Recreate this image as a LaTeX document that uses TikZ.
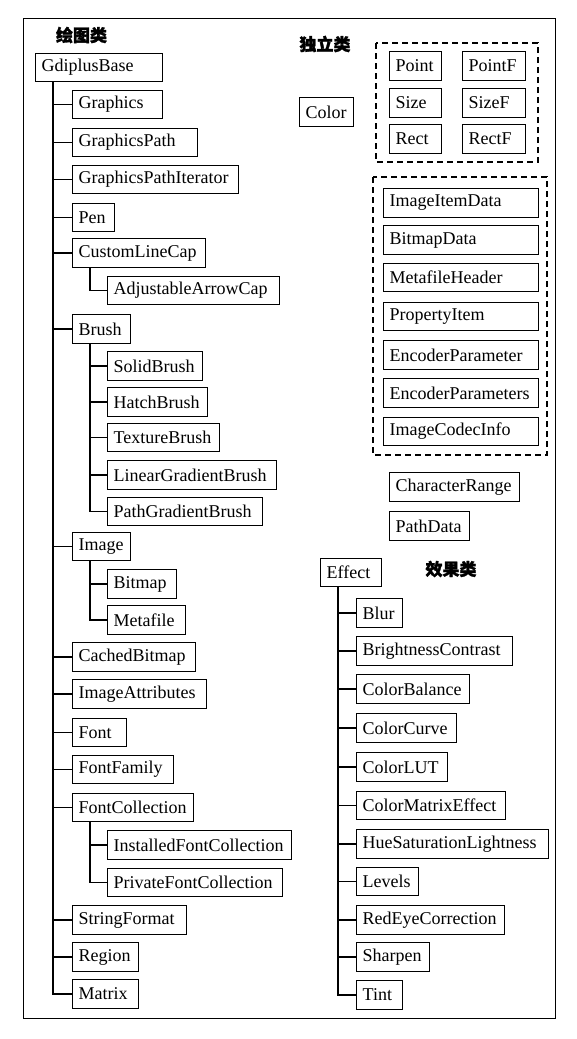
\documentclass[tikz,border=0pt]{standalone}
\usepackage{fontspec}
\setmainfont{Liberation Serif}
\newfontfamily\cjk[FakeBold=1.6]{Noto Sans CJK SC}
\usetikzlibrary{calc}
\tikzset{
  box/.style={draw, line width=1.3pt, minimum height=28.5pt, inner xsep=6pt, inner ysep=0pt, anchor=west, font=\fontsize{18pt}{20pt}\selectfont},
  conn/.style={line width=1.3pt},
  grp/.style={draw, line width=1.3pt, dashed, dash pattern=on 6pt off 4pt},
  frame/.style={draw, line width=1.5pt},
  lbl/.style={font=\fontsize{17pt}{19pt}\selectfont\cjk\bfseries, inner sep=0pt}
}
\newcommand{\cls}[5]{\node[box, minimum width=#4pt] (#1) at (#2,#3) {\makebox[\dimexpr#4pt-12pt\relax][l]{#5}};}
\begin{document}
\begin{tikzpicture}[x=1pt,y=-1pt]
\useasboundingbox (0,0) rectangle (576,1039);
\draw[frame] (23.5,18.5) rectangle (555.5,1018.5);
\node[lbl] (l1) at (81.5,35) {绘图类};
\node[lbl] (l2) at (325,44) {独立类};
\node[lbl] (l3) at (451,569) {效果类};
% left tree
\cls{gb}{35}{67.5}{127}{GdiplusBase}
\cls{g1}{72}{104.5}{90}{Graphics}
\cls{g2}{72}{142.5}{125}{GraphicsPath}
\cls{g3}{72}{179.5}{166}{GraphicsPathIterator}
\cls{g4}{72}{217.5}{42}{Pen}
\cls{g5}{72}{253}{133}{CustomLineCap}
\cls{g5a}{107}{290.5}{172}{AdjustableArrowCap}
\cls{g6}{72}{329}{58}{Brush}
\cls{g6a}{107}{366}{95}{SolidBrush}
\cls{g6b}{107}{402}{100}{HatchBrush}
\cls{g6c}{107}{437.5}{112}{TextureBrush}
\cls{g6d}{107}{475}{169}{LinearGradientBrush}
\cls{g6e}{107}{511.5}{155}{PathGradientBrush}
\cls{g7}{72}{546.5}{58}{Image}
\cls{g7a}{107}{584}{69}{Bitmap}
\cls{g7b}{107}{620}{78}{Metafile}
\cls{g8}{72}{657}{123}{CachedBitmap}
\cls{g9}{72}{694}{134}{ImageAttributes}
\cls{g10}{72}{732.5}{54}{Font}
\cls{g11}{72}{769.5}{101}{FontFamily}
\cls{g12}{72}{807.5}{121}{FontCollection}
\cls{g12a}{107}{845}{184}{InstalledFontCollection}
\cls{g12b}{107}{882.5}{175}{PrivateFontCollection}
\cls{g13}{72}{920}{114}{StringFormat}
\cls{g14}{72}{957}{66}{Region}
\cls{g15}{72}{994}{66}{Matrix}
\coordinate (t0) at ($(gb.south west)+(18,0)$);
\coordinate (t5) at ($(g5.south west)+(18,0)$);
\coordinate (t6) at ($(g6.south west)+(18,0)$);
\coordinate (t7) at ($(g7.south west)+(18,0)$);
\coordinate (t12) at ($(g12.south west)+(18,0)$);
\foreach \c in {g1,g2,g3,g4,g5,g6,g7,g8,g9,g10,g11,g12,g13,g14,g15} {\draw[conn] (t0) |- (\c.west);}
\draw[conn] (t5) |- (g5a.west);
\foreach \c in {g6a,g6b,g6c,g6d,g6e} {\draw[conn] (t6) |- (\c.west);}
\foreach \c in {g7a,g7b} {\draw[conn] (t7) |- (\c.west);}
\foreach \c in {g12a,g12b} {\draw[conn] (t12) |- (\c.west);}
% independent classes
\cls{col}{299}{112}{54}{Color}
\draw[grp] (376,43) rectangle (538,162);
\cls{p1}{389}{66}{52}{Point}
\cls{p2}{462}{66}{63}{PointF}
\cls{p3}{389}{103}{52}{Size}
\cls{p4}{462}{103}{63}{SizeF}
\cls{p5}{389}{139}{52}{Rect}
\cls{p6}{462}{139}{63}{RectF}
\draw[grp] (373,177) rectangle (547,455);
\cls{i1}{383}{203}{155}{ImageItemData}
\cls{i2}{383}{240}{155}{BitmapData}
\cls{i3}{383}{277.5}{155}{MetafileHeader}
\cls{i4}{383}{316.5}{155}{PropertyItem}
\cls{i5}{383}{355}{155}{EncoderParameter}
\cls{i6}{383}{393}{155}{EncoderParameters}
\cls{i7}{383}{431.5}{155}{ImageCodecInfo}
\cls{cr}{389}{487}{130}{CharacterRange}
\cls{pd}{389}{526}{80}{PathData}
% effects
\cls{ef}{320}{572.5}{61}{Effect}
\cls{e1}{356}{613}{46}{Blur}
\cls{e2}{356}{651}{156}{BrightnessContrast}
\cls{e3}{356}{689}{113}{ColorBalance}
\cls{e4}{356}{728}{100}{ColorCurve}
\cls{e5}{356}{767}{91}{ColorLUT}
\cls{e6}{356}{805.5}{149}{ColorMatrixEffect}
\cls{e7}{356}{844}{192}{HueSaturationLightness}
\cls{e8}{356}{881.5}{62}{Levels}
\cls{e9}{356}{920}{148}{RedEyeCorrection}
\cls{e10}{356}{957}{73}{Sharpen}
\cls{e11}{356}{995}{46}{Tint}
\coordinate (te) at ($(ef.south west)+(18,0)$);
\foreach \c in {e1,e2,e3,e4,e5,e6,e7,e8,e9,e10,e11} {\draw[conn] (te) |- (\c.west);}
\end{tikzpicture}
\end{document}
